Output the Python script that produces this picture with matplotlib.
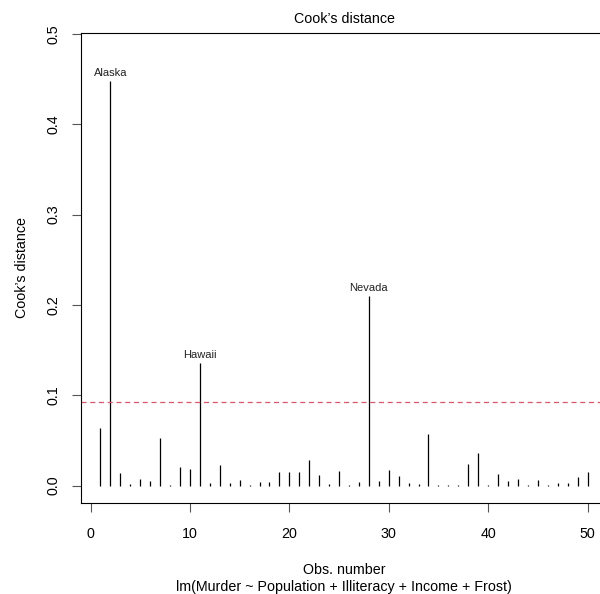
import numpy as np
import matplotlib
matplotlib.use("Agg")
import matplotlib.pyplot as plt

plt.rcParams['font.family'] = ['Liberation Sans', 'DejaVu Sans']

obs = np.arange(1, 51)
cook = [0.064, 0.448, 0.014, 0.002, 0.0076, 0.005, 0.053, 0.001, 0.020, 0.018,
        0.136, 0.0027, 0.0224, 0.003, 0.0057, 0.0004, 0.004, 0.004, 0.015, 0.0145,
        0.015, 0.0287, 0.0114, 0.002, 0.0166, 0.001, 0.004, 0.210, 0.0046, 0.0169,
        0.011, 0.003, 0.002, 0.0574, 0.0004, 0.0005, 0.001, 0.024, 0.036, 0.0003,
        0.0126, 0.0046, 0.0076, 0.001, 0.0057, 0.001, 0.003, 0.0027, 0.0095, 0.015]
labelled = {2: "Alaska", 11: "Hawaii", 28: "Nevada"}
cutoff = 0.093

xticks = [0, 10, 20, 30, 40, 50]
yticks = [0.0, 0.1, 0.2, 0.3, 0.4, 0.5]

fig = plt.figure(figsize=(6, 5.94), dpi=100)
W, H = 600, 594
ax = fig.add_axes([81 / W, 1 - 503 / H, (607 - 81) / W, (503 - 33) / H])

ax.vlines(obs, 0, cook, color='black', lw=0.9)
ax.axhline(cutoff, color='#DF536B', lw=0.9, linestyle=(0, (4, 3)))

for i, name in labelled.items():
    ax.annotate(name, (i, cook[i - 1]), xytext=(0, 2), textcoords='offset points',
                ha='center', va='bottom', fontsize=8, color='#222222')

ax.set_xlim(-0.96, 51.96)
ax.set_ylim(-0.0193, 0.5009)
ax.set_xticks(xticks)
ax.set_yticks(yticks)
ax.set_yticklabels([f"{v:.1f}" for v in yticks], rotation=90, va='center')
ax.tick_params(axis='both', length=6.5, width=0.8, labelsize=10.3, color='#555555')
ax.tick_params(axis='y', pad=8)
ax.tick_params(axis='x', pad=11)
for s in ax.spines.values():
    s.set_linewidth(0.8)

fig.text(344 / W, 1 - 19 / H, "Cook\u2019s distance", ha='center', va='center', fontsize=10.3)
fig.text(22 / W, 1 - 268 / H, "Cook\u2019s distance", ha='center', va='center',
         rotation=90, fontsize=10.3)
fig.text(344 / W, 1 - 570 / H, "Obs. number", ha='center', va='center', fontsize=10.3)
fig.text(344 / W, 1 - 587 / H, "lm(Murder ~ Population + Illiteracy + Income + Frost)",
         ha='center', va='center', fontsize=10.3)

fig.savefig("out.png", dpi=100)
